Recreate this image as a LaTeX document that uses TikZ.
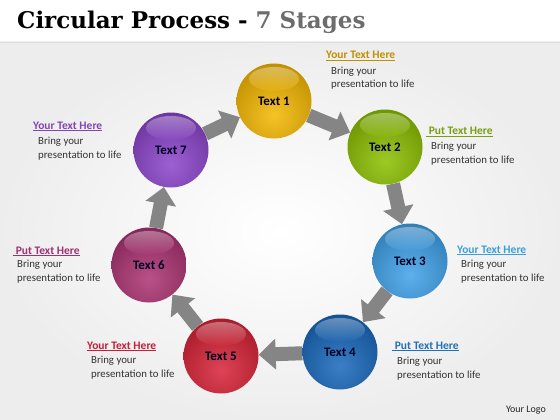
\documentclass[tikz,border=0pt]{standalone}
\usepackage{fontspec}
\setmainfont{Carlito}
\newfontfamily\titlefont{DejaVu Serif}
\usetikzlibrary{arrows.meta,shadings}
\pgfdeclarelayer{back}
\pgfdeclarelayer{bg}
\pgfsetlayers{back,bg,main}
\definecolor{cgold}{HTML}{F5B800}
\definecolor{cgreen}{HTML}{8CC000}
\definecolor{clblue}{HTML}{3FA2EA}
\definecolor{cblue}{HTML}{1868BC}
\definecolor{cred}{HTML}{D82236}
\definecolor{cmag}{HTML}{AC3272}
\definecolor{cpurp}{HTML}{8C44CC}
\definecolor{hgold}{HTML}{BF9000}
\definecolor{hgreen}{HTML}{76A010}
\definecolor{hlblue}{HTML}{3AA0DA}
\definecolor{hblue}{HTML}{1F70B8}
\definecolor{hred}{HTML}{C41E3A}
\definecolor{hmag}{HTML}{A03070}
\definecolor{hpurp}{HTML}{8444B4}
\tikzset{
  ballnode/.style={circle, minimum size=75pt, inner sep=0pt,
    path picture={
      \shade[inner color=#1!85!white, outer color=#1!78!black]
        ([yshift=-14pt]path picture bounding box.center) circle (52pt);
      \shade[top color=white, bottom color=#1, opacity=0.35]
        ([yshift=22pt]path picture bounding box.center) ellipse [x radius=25pt, y radius=12pt];
    },
    font=\fontsize{13}{15}\selectfont\bfseries, text=black!85!blue},
  flowarrow/.style={line width=14pt, draw=black!48,
    -{Triangle[width=30pt,length=17pt]}},
  headtext/.style={anchor=base west, inner sep=0pt, font=\fontsize{11.5}{13}\selectfont\bfseries, text=#1},
  bodytext/.style={anchor=base west, inner sep=0pt, align=left,
    font=\fontsize{10.8}{13.2}\selectfont, text=black!80},
}
\begin{document}
\begin{tikzpicture}[x=1pt,y=-1pt]
\useasboundingbox (0,0) rectangle (560,420);
\begin{pgfonlayer}{back}
\fill[white] (0,0) rectangle (560,420);
\shade[inner color=white, outer color=gray!14] (0,42) rectangle (560,420);
\draw[gray!25] (0,42) -- (560,42);
\end{pgfonlayer}
\node[anchor=base west, inner sep=0pt, font=\titlefont\fontsize{23}{25}\selectfont\bfseries] (title) at (17,29)
  {Circular Process - \textcolor{gray!85!black}{7 Stages}};

\node[ballnode=cgold] (t1) at (274,101) {Text 1};
\node[ballnode=cgreen] (t2) at (385,147) {Text 2};
\node[ballnode=clblue] (t3) at (410,261) {Text 3};
\node[ballnode=cblue] (t4) at (340,352) {Text 4};
\node[ballnode=cred] (t5) at (221,356) {Text 5};
\node[ballnode=cmag] (t6) at (149,265) {Text 6};
\node[ballnode=cpurp] (t7) at (171,150) {Text 7};

\begin{pgfonlayer}{bg}
\draw[flowarrow] (t1) -- (t2);
\draw[flowarrow] (t2) -- (t3);
\draw[flowarrow] (t3) -- (t4);
\draw[flowarrow] (t4) -- (t5);
\draw[flowarrow] (t5) -- (t6);
\draw[flowarrow] (t6) -- (t7);
\draw[flowarrow] (t7) -- (t1);
\end{pgfonlayer}

\node[headtext=hgold] (h1) at (326,59) {\underline{Your Text Here}};
\node[bodytext] (b1) at (331,88) {Bring your\\presentation to life};
\node[headtext=hgreen] (h2) at (426,135) {\underline{\ Put Text Here}};
\node[bodytext] (b2) at (431,163) {Bring your\\presentation to life};
\node[headtext=hlblue] (h3) at (457,253) {\underline{Your Text Here}};
\node[bodytext] (b3) at (461,281) {Bring your\\presentation to life};
\node[headtext=hblue] (h4) at (392,349) {\underline{\ Put Text Here}};
\node[bodytext] (b4) at (397,378) {Bring your\\presentation to life};
\node[headtext=hred] (h5) at (87,349) {\underline{Your Text Here}};
\node[bodytext] (b5) at (91,377) {Bring your\\presentation to life};
\node[headtext=hmag] (h6) at (13,254) {\underline{\ Put Text Here}};
\node[bodytext] (b6) at (17,281) {Bring your\\presentation to life};
\node[headtext=hpurp] (h7) at (33,129) {\underline{Your Text Here}};
\node[bodytext] (b7) at (38,158) {Bring your\\presentation to life};

\node[anchor=base east, inner sep=0pt, font=\fontsize{10}{11}\selectfont, text=black!85] (logo) at (546,412) {Your Logo};
\end{tikzpicture}
\end{document}
